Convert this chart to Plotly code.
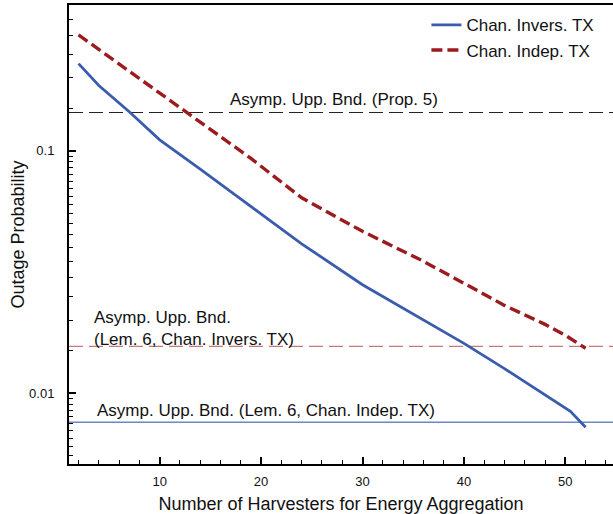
import numpy as np
import plotly.graph_objects as go

# ---- data ----
x_inv = [2, 4, 7, 10, 14, 20, 24, 30, 36, 40, 44, 46, 48.5, 50.5, 52]
y_inv = [0.229, 0.186, 0.145, 0.111, 0.084, 0.0548, 0.0413, 0.028, 0.01995,
         0.01603, 0.0126, 0.0111, 0.00953, 0.0084, 0.00722]

x_ind = [2, 10, 19, 24, 30, 36, 40, 44, 48, 50, 52]
y_ind = [0.301, 0.173, 0.093, 0.064, 0.0465, 0.035, 0.0285, 0.023, 0.0192,
         0.0173, 0.0153]

bound_prop5 = 0.1439
bound_lem6_inv = 0.01557
bound_lem6_ind = 0.00757

x_range = [1.06, 54.7]
y_range = [0.00509, 0.4]
x_major = [10, 20, 30, 40, 50]
y_major = [0.01, 0.1]
y_major_text = ["0.01", "0.1"]

legend_names = ["Chan. Invers. TX", "Chan. Indep. TX"]
ann_prop5 = "Asymp. Upp. Bnd. (Prop. 5)"
ann_inv = "Asymp. Upp. Bnd.<br>(Lem. 6, Chan. Invers. TX)"
ann_ind = "Asymp. Upp. Bnd. (Lem. 6, Chan. Indep. TX)"

# minor ticks on the log axis: every half-decade-unit
y_minor = ([round(0.0005 * k, 5) for k in range(11, 20)] +
           [round(0.005 * k, 4) for k in range(3, 20)] +
           [round(0.05 * k, 3) for k in range(3, 9)])

FONT = "Liberation Sans, Arial, Helvetica, sans-serif"
BLUE = "#3b5bad"
RED = "#9b1b1e"

fig = go.Figure()

# horizontal bounds
fig.add_trace(go.Scatter(x=x_range, y=[bound_prop5] * 2, mode="lines",
                         line=dict(color="#222222", width=1.2, dash="14px,6px"),
                         showlegend=False, hoverinfo="skip"))
fig.add_trace(go.Scatter(x=x_range, y=[bound_lem6_inv] * 2, mode="lines",
                         line=dict(color="#c47a7a", width=1.4, dash="14px,6px"),
                         showlegend=False, hoverinfo="skip"))
fig.add_trace(go.Scatter(x=x_range, y=[bound_lem6_ind] * 2, mode="lines",
                         line=dict(color="#6f86c6", width=1.4),
                         showlegend=False, hoverinfo="skip"))

# main curves
fig.add_trace(go.Scatter(x=x_inv, y=y_inv, mode="lines", name=legend_names[0],
                         line=dict(color=BLUE, width=2.8)))
fig.add_trace(go.Scatter(x=x_ind, y=y_ind, mode="lines", name=legend_names[1],
                         line=dict(color=RED, width=3.4, dash="11px,5px")))

annots = [
    dict(x=27.2, y=np.log10(bound_prop5), text=ann_prop5, xanchor="center",
         yanchor="middle", yshift=13),
    dict(x=3.3, y=np.log10(bound_lem6_inv), text=ann_inv, xanchor="left",
         yanchor="middle", yshift=18, align="left"),
    dict(x=3.6, y=np.log10(bound_lem6_ind), text=ann_ind, xanchor="left",
         yanchor="middle", yshift=12),
]
for a in annots:
    a.update(xref="x", yref="y", showarrow=False,
             font=dict(family=FONT, size=17, color="#111111"))
fig.update_layout(annotations=annots)

fig.update_layout(
    width=613, height=514,
    margin=dict(l=69, r=0, t=5, b=50),
    paper_bgcolor="white", plot_bgcolor="white",
    font=dict(family=FONT, size=13, color="#111111"),
    legend=dict(x=0.657, y=0.995, xanchor="left", yanchor="top",
                bgcolor="rgba(0,0,0,0)", font=dict(family=FONT, size=17),
                tracegroupgap=0),
    xaxis=dict(range=x_range, tickvals=x_major, ticks="inside", ticklen=7,
               tickwidth=2, tickcolor="black", showline=True, linewidth=2,
               linecolor="black", mirror=True, showgrid=False, zeroline=False,
               automargin=False, tickfont=dict(size=13), ticklabelstandoff=4,
               minor=dict(dtick=2, tick0=0, ticks="inside", ticklen=4,
                          tickwidth=1, tickcolor="black", showgrid=False),
               title=dict(text="Number of Harvesters for Energy Aggregation",
                          font=dict(size=18), standoff=10)),
    yaxis=dict(type="log", range=[np.log10(y_range[0]), np.log10(y_range[1])],
               tickvals=y_major, ticktext=y_major_text, ticks="inside",
               ticklen=7, tickwidth=2, tickcolor="black", showline=True,
               linewidth=2, linecolor="black", mirror=False, showgrid=False,
               zeroline=False, automargin=False, tickfont=dict(size=13),
               ticklabelstandoff=10,
               minor=dict(tickvals=y_minor, ticks="inside", ticklen=4,
                          tickwidth=1, tickcolor="black", showgrid=False),
               title=dict(text="Outage Probability", font=dict(size=18),
                          standoff=0)),
)

fig.write_html("out.html",
               config={"displayModeBar": False},
               post_script="document.body.style.margin='0';"
                           "document.body.style.overflow='hidden';")
